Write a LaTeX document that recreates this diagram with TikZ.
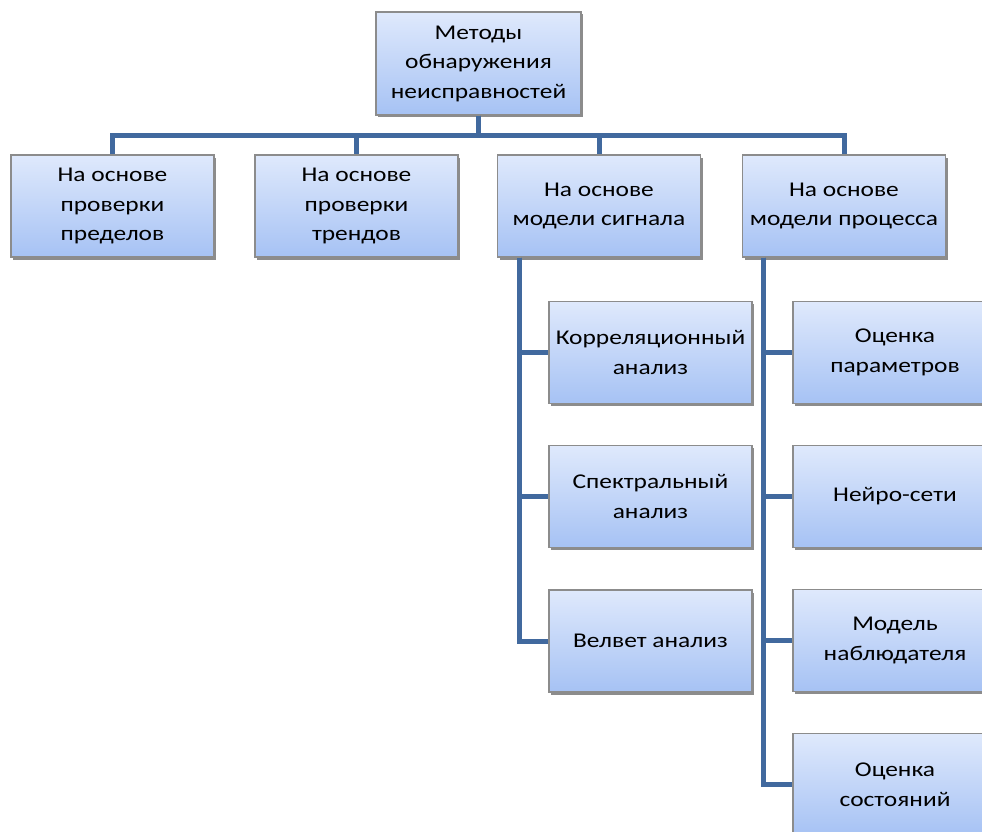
\documentclass[tikz,border=0pt]{standalone}
\usepackage{fontspec}
\setmainfont[FakeStretch=1.21]{Carlito}
\usetikzlibrary{shadows}

\definecolor{boxtop}{RGB}{223,233,252}
\definecolor{boxbottom}{RGB}{166,194,244}
\definecolor{boxedge}{RGB}{140,140,140}
\definecolor{linkblue}{RGB}{65,105,158}

\tikzset{
  method/.style={draw=boxedge, line width=1.2pt, top color=boxtop, bottom color=boxbottom,
    minimum width=203pt, minimum height=102pt, inner sep=0pt, align=center,
    font=\fontsize{21}{29.5}\selectfont, text=black,
    drop shadow={shadow xshift=2pt, shadow yshift=-2.5pt, fill=black!45, opacity=1}},
  link/.style={draw=linkblue, line width=5pt}
}

\begin{document}
\begin{tikzpicture}[x=1pt, y={(0,-1pt)}]

    \clip (0,0) rectangle (982,832);
    \useasboundingbox (0,0) rectangle (982,832);

	% root
	\node[method, minimum width=205pt, minimum height=103pt] (root) at (478.5,63.5) {Методы\\обнаружения\\неисправностей};

	% first level
	\node[method] (limits) at (112.5,206) {На основе\\проверки\\пределов};
	\node[method] (trends) at (356.5,206) {На основе\\проверки\\трендов};
	\node[method] (signal) at (599,206) {На основе\\модели сигнала};
	\node[method] (process) at (844,206) {На основе\\модели процесса};

	% signal model
	\node[method] (corr) at (650.5,352.5) {Корреляционный\\анализ};
	\node[method] (spec) at (650.5,496.5) {Спектральный\\анализ};
	\node[method] (wave) at (650.5,641) {Велвет анализ};

	% process model
	\node[method, minimum width=204pt] (param) at (895,352.5) {Оценка\\параметров};
	\node[method, minimum width=204pt] (neuro) at (895,496.5) {Нейро-сети};
	\node[method, minimum width=204pt] (observer) at (895,640.5) {Модель\\наблюдателя};
	\node[method, minimum width=204pt] (state) at (895,784.5) {Оценка\\состояний};

	% connectors
	\draw[link] (root.south) -- ++(0,20) -| (limits.north);
	\draw[link] (root.south) -- ++(0,20) -| (trends.north);
	\draw[link] (root.south) -- ++(0,20) -| (signal.north);
	\draw[link] (root.south) -- ++(0,20) -| (process.north);

	\draw[link] ([xshift=23pt]signal.south west) |- (corr.west);
	\draw[link] ([xshift=23pt]signal.south west) |- (spec.west);
	\draw[link] ([xshift=23pt]signal.south west) |- (wave.west);

	\draw[link] ([xshift=22pt]process.south west) |- (param.west);
	\draw[link] ([xshift=22pt]process.south west) |- (neuro.west);
	\draw[link] ([xshift=22pt]process.south west) |- (observer.west);
	\draw[link] ([xshift=22pt]process.south west) |- (state.west);

\end{tikzpicture}
\end{document}
